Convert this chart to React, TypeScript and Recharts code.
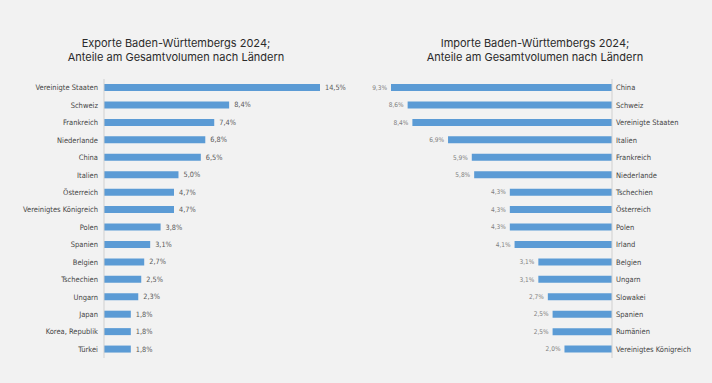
import { BarChart, Bar, XAxis, YAxis, LabelList } from 'recharts';

const exportCountries = [
    'Vereinigte Staaten', 'Schweiz', 'Frankreich', 'Niederlande', 'China', 'Italien',
    'Österreich', 'Vereinigtes Königreich', 'Polen', 'Spanien', 'Belgien', 'Tschechien',
    'Ungarn', 'Japan', 'Korea, Republik', 'Türkei',
];
const exportShares = [14.5, 8.4, 7.4, 6.8, 6.5, 5.0, 4.7, 4.7, 3.8, 3.1, 2.7, 2.5, 2.3, 1.8, 1.8, 1.8];

const importCountries = [
    'China', 'Schweiz', 'Vereinigte Staaten', 'Italien', 'Frankreich', 'Niederlande',
    'Tschechien', 'Österreich', 'Polen', 'Irland', 'Belgien', 'Ungarn', 'Slowakei',
    'Spanien', 'Rumänien', 'Vereinigtes Königreich',
];
const importShares = [9.3, 8.6, 8.4, 6.9, 5.9, 5.8, 4.3, 4.3, 4.3, 4.1, 3.1, 3.1, 2.7, 2.5, 2.5, 2.0];

const exportData = exportCountries.map((land, i) => ({ land, share: exportShares[i] }));
const importData = importCountries.map((land, i) => ({ land, share: importShares[i] }));

const BLUE = '#5b9bd5';
const TITLE_FONT = 'Inter, Roboto, sans-serif';
const FONT = '"Liberation Sans Narrow", "DejaVu Sans Condensed", Roboto, sans-serif';

const fmt = (v: number) => v.toFixed(1).replace('.', ',') + '%';

// label right of the bar end (exports)
const rightLabel = (props: any) => {
    const { x, y, width, height, value } = props;
    const end = Math.max(x, x + width);
    return (
        <text x={end + 5} y={y + height / 2} dy="0.35em" fontSize={7.3} fill="#595959" fontFamily={FONT}>
            {fmt(value)}
        </text>
    );
};

// label left of the bar end (imports, reversed axis)
const leftLabel = (props: any) => {
    const { x, y, width, height, value } = props;
    const end = Math.min(x, x + width);
    return (
        <text x={end - 4} y={y + height / 2} dy="0.35em" fontSize={6.5} fill="#7f7f7f" textAnchor="end" fontFamily={FONT}>
            {fmt(value)}
        </text>
    );
};

// plain one-line tick so long names don't wrap
const countryTick = (anchor: 'start' | 'end', dx: number) => (props: any) => {
    const { x, y, payload } = props;
    return (
        <text x={x + dx} y={y} dy="0.35em" fontSize={7.5} fill="#454545" textAnchor={anchor} fontFamily={FONT}>
            {payload.value}
        </text>
    );
};

const titleStyle = (left: number): React.CSSProperties => ({
    position: 'absolute',
    left,
    top: 36,
    width: 356,
    textAlign: 'center',
    fontFamily: TITLE_FONT,
    fontSize: 11,
    lineHeight: '14px',
    color: '#2b2b2b',
});

export default function App() {
    return (
        <div style={{ position: 'absolute', left: 0, top: 0, width: 712, height: 383, background: '#f2f2f2', overflow: 'hidden' }}>
            <div style={titleStyle(-2)}>
                Exporte Baden-Württembergs 2024;<br />Anteile am Gesamtvolumen nach Ländern
            </div>
            <div style={titleStyle(357)}>
                Importe Baden-Württembergs 2024;<br />Anteile am Gesamtvolumen nach Ländern
            </div>

            <div style={{ position: 'absolute', left: 0, top: 0 }}>
                <BarChart
                    width={356}
                    height={383}
                    layout="vertical"
                    data={exportData}
                    margin={{ top: 79, right: 36, bottom: 25, left: 0 }}
                    barCategoryGap={0}
                >
                    <XAxis type="number" domain={[0, 14.5]} hide />
                    <YAxis
                        type="category"
                        dataKey="land"
                        width={104}
                        tickLine={false}
                        tickSize={0}
                        tickMargin={0}
                        axisLine={{ stroke: '#d0d0d0' }}
                        tick={countryTick('end', -6)}
                        interval={0}
                    />
                    <Bar dataKey="share" fill={BLUE} barSize={7} isAnimationActive={false}>
                        <LabelList dataKey="share" content={rightLabel} />
                    </Bar>
                </BarChart>
            </div>

            <div style={{ position: 'absolute', left: 356, top: 0 }}>
                <BarChart
                    width={356}
                    height={383}
                    layout="vertical"
                    data={importData}
                    margin={{ top: 79, right: 0, bottom: 25, left: 35 }}
                    barCategoryGap={0}
                >
                    <XAxis type="number" domain={[0, 9.3]} reversed hide />
                    <YAxis
                        type="category"
                        dataKey="land"
                        orientation="right"
                        width={100}
                        tickLine={false}
                        tickSize={0}
                        tickMargin={0}
                        axisLine={{ stroke: '#d0d0d0' }}
                        tick={countryTick('start', 4)}
                        interval={0}
                    />
                    <Bar dataKey="share" fill={BLUE} barSize={7} isAnimationActive={false}>
                        <LabelList dataKey="share" content={leftLabel} />
                    </Bar>
                </BarChart>
            </div>
        </div>
    );
}
